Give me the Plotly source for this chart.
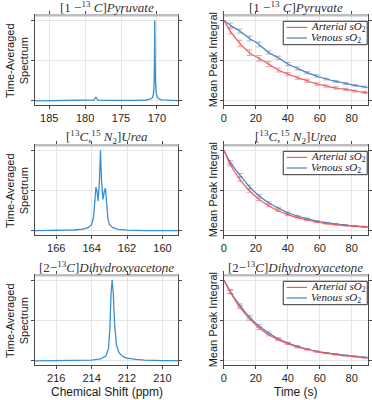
import plotly.graph_objects as go

# ---------------- data ----------------
# Spectra (ppm, normalised intensity)
pyr_ppm = [187.0, 182.0, 180.0, 179.0, 178.8, 178.65, 178.5, 178.35, 178.2, 178.0, 176.0,
           173.0, 171.5, 171.0, 170.7, 170.5, 170.4, 170.35, 170.3, 170.25, 170.2,
           170.1, 169.95, 169.7, 169.3, 168.5, 167.0]
pyr_int = [0.002, 0.003, 0.004, 0.006, 0.012, 0.03, 0.045, 0.025, 0.01, 0.006, 0.005,
           0.007, 0.012, 0.018, 0.03, 0.07, 0.18, 0.45, 1.0, 0.6, 0.25,
           0.1, 0.05, 0.025, 0.013, 0.007, 0.004]

urea_ppm = [167.2, 166.0, 165.0, 164.5, 164.2, 164.0, 163.9, 163.82, 163.76, 163.7,
            163.63, 163.56, 163.5, 163.44, 163.36, 163.28, 163.22, 163.16, 163.08,
            163.0, 162.8, 162.5, 162.0, 161.0, 159.1]
urea_int = [0.003, 0.006, 0.012, 0.022, 0.04, 0.08, 0.16, 0.36, 0.54, 0.5,
            0.37, 0.62, 1.0, 0.62, 0.39, 0.49, 0.53, 0.36, 0.16,
            0.08, 0.04, 0.02, 0.01, 0.005, 0.003]

dha_ppm = [217.2, 215.0, 214.0, 213.5, 213.2, 213.05, 212.97, 212.9, 212.84, 212.78,
           212.7, 212.6, 212.45, 212.2, 212.0, 211.5, 211.0, 210.0, 209.1]
dha_int = [0.002, 0.005, 0.01, 0.025, 0.06, 0.15, 0.4, 0.85, 1.0, 0.85,
           0.45, 0.2, 0.1, 0.05, 0.035, 0.02, 0.01, 0.005, 0.003]

# Decay curves (time in s, normalised mean peak integral)
t_pts = [4, 10, 16, 22, 28, 34, 40, 46, 52, 58, 64, 70, 76, 82, 88]
t_line = [0] + t_pts + [90]

pyr_art = [0.864, 0.712, 0.597, 0.527, 0.457, 0.383, 0.333, 0.288, 0.251, 0.21, 0.185, 0.16, 0.144, 0.123, 0.107]
pyr_ven = [0.938, 0.864, 0.774, 0.70, 0.60, 0.535, 0.457, 0.403, 0.35, 0.309, 0.272, 0.243, 0.218, 0.193, 0.173]
pyr_art_end, pyr_ven_end = 0.103, 0.168
pyr_art_err = [0.035, 0.04, 0.035, 0.035, 0.03, 0.025, 0.02, 0.02, 0.02, 0.015, 0.015, 0.015, 0.012, 0.012, 0.012]
pyr_ven_err = [0.025, 0.025, 0.03, 0.03, 0.02, 0.02, 0.02, 0.02, 0.015, 0.015, 0.012, 0.012, 0.012, 0.01, 0.01]

urea_art = [0.823, 0.638, 0.498, 0.391, 0.313, 0.251, 0.202, 0.165, 0.136, 0.111, 0.091, 0.078, 0.066, 0.058, 0.049]
urea_ven = [0.848, 0.691, 0.547, 0.436, 0.35, 0.284, 0.226, 0.185, 0.152, 0.123, 0.103, 0.086, 0.074, 0.062, 0.053]
urea_art_end, urea_ven_end = 0.047, 0.051
urea_art_err = [0.02, 0.025, 0.02, 0.015, 0.012, 0.01, 0.01, 0.008, 0.008, 0.006, 0.006, 0.006, 0.005, 0.005, 0.005]
urea_ven_err = [0.025, 0.02, 0.02, 0.015, 0.012, 0.01, 0.01, 0.008, 0.008, 0.006, 0.006, 0.006, 0.005, 0.005, 0.005]

dha_art = [0.852, 0.667, 0.523, 0.407, 0.325, 0.263, 0.214, 0.173, 0.144, 0.115, 0.095, 0.078, 0.066, 0.053, 0.041]
dha_ven = [0.86, 0.687, 0.543, 0.432, 0.346, 0.276, 0.222, 0.181, 0.148, 0.119, 0.099, 0.086, 0.07, 0.058, 0.045]
dha_art_end, dha_ven_end = 0.039, 0.043
dha_art_err = [0.02, 0.02, 0.02, 0.02, 0.015, 0.012, 0.01, 0.01, 0.008, 0.006, 0.006, 0.005, 0.005, 0.005, 0.005]
dha_ven_err = [0.025, 0.02, 0.02, 0.02, 0.015, 0.012, 0.01, 0.01, 0.008, 0.006, 0.006, 0.005, 0.005, 0.005, 0.005]

titles = [
    "[1 −<sup>13</sup> <i>C</i>]<i>Pyruvate</i>",
    "[<sup>13</sup><i>C</i>,<sup>15</sup> <i>N</i><sub>2</sub>]<i>Urea</i>",
    "[2−<sup>13</sup><i>C</i>]<i>Dihydroxyacetone</i>",
]
spec_ranges = [[187, 167], [167.2, 159.1], [217.2, 209.1]]
spec_ticks = [[185, 180, 175, 170], [166, 164, 162, 160], [216, 214, 212, 210]]
time_ticks = [0, 20, 40, 60, 80]
y_ticks = [0, 0.5, 1]
legend_labels = ["<i>Arterial sO</i><sub>2</sub>", "<i>Venous sO</i><sub>2</sub>"]

# ---------------- styling ----------------
W, H = 372, 400
SPEC_BLUE = "#3b8fd4"
RED = "#ec5a62"
BLUE = "#4f80b8"
RED_ERR = "rgba(236,90,98,0.55)"
BLUE_ERR = "rgba(79,128,184,0.5)"
AX = "#4a4a4a"
GRID = "#e6e6e6"
SANS = "Liberation Sans, Arial, sans-serif"
SERIF = "Liberation Serif, Times New Roman, serif"

left_px = (32.3, 177.3)
right_px = (223.3, 368.7)
rows_px = [(15.3, 105.0), (145.3, 235.0), (275.3, 365.0)]

def px(x):
    return x / W

def py(y):
    return 1 - y / H

fig = go.Figure()

spectra = [(pyr_ppm, pyr_int), (urea_ppm, urea_int), (dha_ppm, dha_int)]
decays = [
    (pyr_art, pyr_art_end, pyr_art_err, pyr_ven, pyr_ven_end, pyr_ven_err),
    (urea_art, urea_art_end, urea_art_err, urea_ven, urea_ven_end, urea_ven_err),
    (dha_art, dha_art_end, dha_art_err, dha_ven, dha_ven_end, dha_ven_err),
]

layout = {}
shapes = []
annotations = []

for r in range(3):
    top, bot = rows_px[r]
    for c in range(2):
        k = 2 * r + c + 1
        xa = "x" if k == 1 else f"x{k}"
        ya = "y" if k == 1 else f"y{k}"
        xkey = "xaxis" if k == 1 else f"xaxis{k}"
        ykey = "yaxis" if k == 1 else f"yaxis{k}"
        lx = left_px if c == 0 else right_px
        common = dict(showline=True, linecolor=AX, linewidth=1, mirror="ticks",
                      ticks="outside", ticklen=3, tickcolor=AX, tickwidth=1,
                      showgrid=True, gridcolor=GRID, gridwidth=1, zeroline=False,
                      tickfont=dict(family=SANS, size=11, color="#262626"))
        if c == 0:
            xa_d = dict(domain=[px(lx[0]), px(lx[1])], anchor=ya,
                        range=spec_ranges[r], tickvals=spec_ticks[r], **common)
        else:
            xa_d = dict(domain=[px(lx[0]), px(lx[1])], anchor=ya,
                        range=[0, 90], tickvals=time_ticks, **common)
        ya_d = dict(domain=[py(bot), py(top)], anchor=xa, range=[-0.05, 1.06],
                    tickvals=y_ticks, showticklabels=False, **common)
        layout[xkey] = xa_d
        layout[ykey] = ya_d

        # light grey top frame
        shapes.append(dict(type="line", xref=f"{xa} domain", yref=f"{ya} domain",
                           x0=0, x1=1, y0=1, y1=1,
                           line=dict(color="#bdbdbd", width=2.5)))
        # subplot title
        annotations.append(dict(text=titles[r], x=px((lx[0] + lx[1]) / 2), y=py(top - 7.9),
                                xref="paper", yref="paper", xanchor="center", yanchor="middle",
                                showarrow=False,
                                font=dict(family=SERIF, size=13, color="#333333")))

        if c == 0:
            xs, ys = spectra[r]
            fig.add_trace(go.Scatter(x=xs, y=ys, mode="lines", xaxis=xa, yaxis=ya,
                                     line=dict(color=SPEC_BLUE, width=1.3),
                                     showlegend=False, hoverinfo="skip"))
            annotations.append(dict(text="Time-Averaged<br>Spectrum", x=px(14), y=py((top + bot) / 2),
                                    xref="paper", yref="paper", xanchor="center", yanchor="middle",
                                    textangle=-90, showarrow=False,
                                    font=dict(family=SANS, size=11, color="#1a1a1a")))
        else:
            art, art_end, art_err, ven, ven_end, ven_err = decays[r]
            for vals, end, err, col, ecol in [(ven, ven_end, ven_err, BLUE, BLUE_ERR),
                                              (art, art_end, art_err, RED, RED_ERR)]:
                fig.add_trace(go.Scatter(x=t_pts, y=vals, mode="markers", xaxis=xa, yaxis=ya,
                                         marker=dict(size=1, color="rgba(0,0,0,0)"),
                                         error_y=dict(type="data", array=err, color=ecol,
                                                      thickness=1, width=3),
                                         showlegend=False, hoverinfo="skip"))
                fig.add_trace(go.Scatter(x=t_line, y=[1.0] + vals + [end], mode="lines",
                                         xaxis=xa, yaxis=ya, line_shape="spline",
                                         line=dict(color=col, width=1.2, smoothing=0.8),
                                         showlegend=False, hoverinfo="skip"))
            annotations.append(dict(text="Mean Peak Integral", x=px(212.5), y=py((top + bot) / 2),
                                    xref="paper", yref="paper", xanchor="center", yanchor="middle",
                                    textangle=-90, showarrow=False,
                                    font=dict(family=SANS, size=11, color="#1a1a1a")))
            # legend box
            dy = top - 15.3
            shapes.append(dict(type="rect", xref="paper", yref="paper",
                               x0=px(283.3), x1=px(368.2), y0=py(44.7 + dy), y1=py(21.3 + dy),
                               line=dict(color="#333333", width=1), fillcolor="white"))
            for i, (col, lab) in enumerate([(RED, legend_labels[0]), (BLUE, legend_labels[1])]):
                yy = 27.4 + dy + i * 10.6
                shapes.append(dict(type="line", xref="paper", yref="paper",
                                   x0=px(286.7), x1=px(307.3), y0=py(yy), y1=py(yy),
                                   line=dict(color=col, width=1.2)))
                annotations.append(dict(text=lab, x=px(309.5), y=py(yy), xref="paper", yref="paper",
                                        xanchor="left", yanchor="middle", showarrow=False,
                                        font=dict(family=SERIF, size=11, color="#1a1a1a")))

annotations.append(dict(text="Chemical Shift (ppm)", x=px(104.8), y=py(392), xref="paper", yref="paper",
                        xanchor="center", yanchor="middle", showarrow=False,
                        font=dict(family=SANS, size=12, color="#1a1a1a")))
annotations.append(dict(text="Time (s)", x=px(296), y=py(392), xref="paper", yref="paper",
                        xanchor="center", yanchor="middle", showarrow=False,
                        font=dict(family=SANS, size=12, color="#1a1a1a")))

fig.update_layout(width=W, height=H, margin=dict(l=0, r=0, t=0, b=0),
                  paper_bgcolor="white", plot_bgcolor="white",
                  shapes=shapes, annotations=annotations, showlegend=False, **layout)

fig.write_html("out.html", config={"displayModeBar": False},
               post_script="document.body.style.margin='0';document.body.style.padding='0';"
                           "document.documentElement.style.overflow='hidden';window.scrollTo(0,0);")
